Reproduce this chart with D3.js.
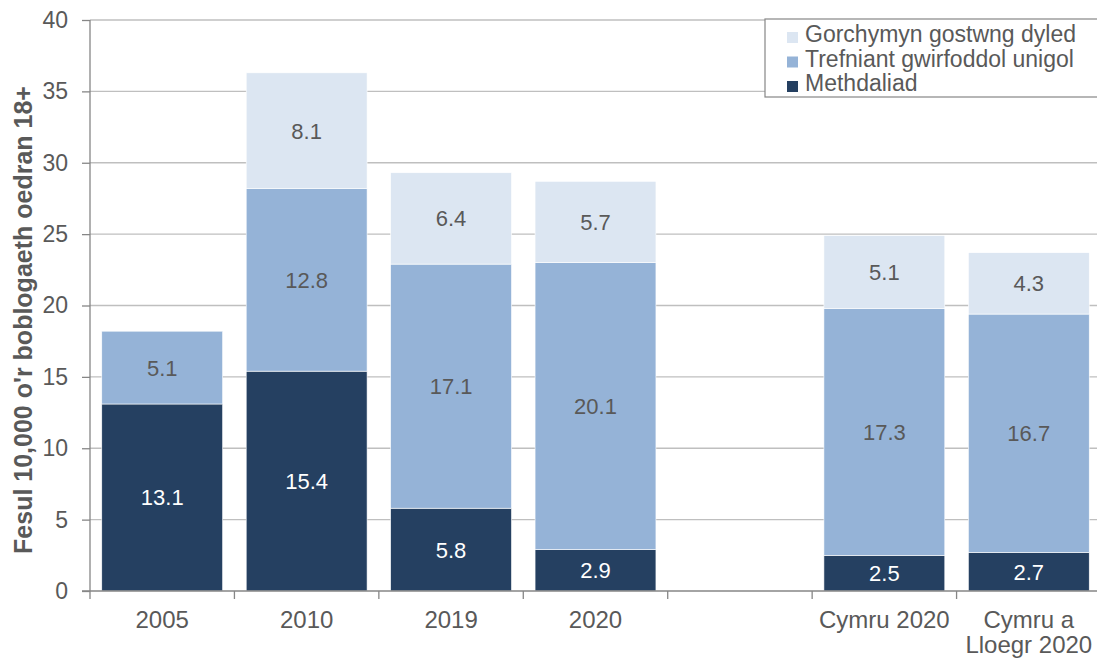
<!DOCTYPE html>
<html>
<head>
<meta charset="utf-8">
<script src="https://cdn.jsdelivr.net/npm/d3@7"></script>
<style>
  body { margin: 0; background: #fff; }
  text { font-family: "Liberation Sans", Arial, sans-serif; }
</style>
</head>
<body>
<script>
// Data
var categories = ["2005", "2010", "2019", "2020", "", "Cymru 2020", "Cymru a\nLloegr 2020"];
var methdaliad = [13.1, 15.4, 5.8, 2.9, null, 2.5, 2.7];
var trefniant = [5.1, 12.8, 17.1, 20.1, null, 17.3, 16.7];
var gorchymyn = [0, 8.1, 6.4, 5.7, null, 5.1, 4.3];
var seriesNames = ["Methdaliad", "Trefniant gwirfoddol unigol", "Gorchymyn gostwng dyled"];
var yTicks = [0, 5, 10, 15, 20, 25, 30, 35, 40];

var colors = ["#254061", "#95b3d7", "#dce6f2"];
var labelColors = ["#ffffff", "#595959", "#595959"];

var svgWidth = 1097, svgHeight = 660;
var margin = { top: 20, right: -4, bottom: 69, left: 90 };
var width = svgWidth - margin.left - margin.right;
var height = svgHeight - margin.top - margin.bottom;

var svg = d3.select("body").append("svg")
  .attr("width", svgWidth)
  .attr("height", svgHeight);

var chartGroup = svg.append("g")
  .attr("transform", `translate(${margin.left}, ${margin.top})`);

var keys = categories.map((c, i) => "k" + i);
var x = d3.scaleBand().domain(keys).range([0, width]).paddingInner(0.163).paddingOuter(0.0815);
var y = d3.scaleLinear().domain([0, 40]).range([height, 0]);

// gridlines
chartGroup.selectAll(".grid").data(yTicks.slice(1)).enter().append("line")
  .attr("x1", 0).attr("x2", width)
  .attr("y1", d => y(d)).attr("y2", d => y(d))
  .attr("stroke", "#bfbfbf").attr("stroke-width", 1.3);

// stack data
var rows = categories.map((c, i) => ({ key: keys[i], m: methdaliad[i] || 0, t: trefniant[i] || 0, g: gorchymyn[i] || 0 }));
var stack = d3.stack().keys(["m", "t", "g"])(rows);

stack.forEach((layer, li) => {
  var g = chartGroup.append("g");
  g.selectAll("rect").data(layer.filter(d => d[1] - d[0] > 0)).enter().append("rect")
    .attr("x", d => x(d.data.key))
    .attr("width", x.bandwidth())
    .attr("y", d => y(d[1]))
    .attr("height", d => y(d[0]) - y(d[1]))
    .attr("fill", colors[li])
    .attr("stroke", "#ffffff").attr("stroke-width", 0.6);
  g.selectAll("text").data(layer.filter(d => d[1] - d[0] > 0)).enter().append("text")
    .attr("x", d => x(d.data.key) + x.bandwidth() / 2)
    .attr("y", d => (y(d[0]) + y(d[1])) / 2 + 8)
    .attr("text-anchor", "middle")
    .attr("font-size", "22px")
    .attr("fill", labelColors[li])
    .text(d => (d[1] - d[0]).toFixed(1));
});

// y axis
var leftAxis = d3.axisLeft(y).tickValues(yTicks).tickSize(8).tickPadding(14);
var yAxis = chartGroup.append("g").call(leftAxis);
yAxis.select(".domain").attr("stroke", "#868686").attr("stroke-width", 1.3).attr("d", `M0,${height}V0`);
yAxis.selectAll(".tick line").attr("stroke", "#868686").attr("stroke-width", 1.3);
yAxis.selectAll(".tick text").attr("font-size", "23px").attr("fill", "#595959")
  .attr("font-family", "Liberation Sans, Arial, sans-serif");

// x axis
var xAxis = chartGroup.append("g").attr("transform", `translate(0, ${height})`);
xAxis.append("line").attr("x1", -8).attr("x2", width).attr("stroke", "#868686").attr("stroke-width", 1.3);
var step = x.step();
d3.range(keys.length + 1).forEach(i => {
  var xp = i * step;
  xAxis.append("line").attr("x1", xp).attr("x2", xp).attr("y1", 0).attr("y2", 8)
    .attr("stroke", "#868686").attr("stroke-width", 1.3);
});
xAxis.selectAll(".xlab").data(categories).enter().append("text")
  .attr("text-anchor", "middle")
  .attr("font-size", "24px")
  .attr("fill", "#595959")
  .attr("transform", (d, i) => `translate(${x(keys[i]) + x.bandwidth() / 2}, 37)`)
  .each(function (d) {
    var lines = d.split("\n");
    d3.select(this).selectAll("tspan").data(lines).enter().append("tspan")
      .attr("x", 0).attr("dy", (l, j) => j === 0 ? 0 : 25).text(l => l);
  });

// y axis title
svg.append("text")
  .attr("transform", `translate(32, 320) rotate(-90)`)
  .attr("text-anchor", "middle")
  .attr("font-size", "25px")
  .attr("font-weight", "bold")
  .attr("fill", "#595959")
  .text("Fesul 10,000 o'r boblogaeth oedran 18+");

// legend
var legend = svg.append("g").attr("transform", "translate(765, 19)");
legend.append("rect").attr("width", 345).attr("height", 78)
  .attr("fill", "#fff").attr("stroke", "#868686").attr("stroke-width", 1.2);
var legendOrder = [2, 1, 0];
legendOrder.forEach((si, i) => {
  var row = legend.append("g").attr("transform", `translate(22, ${23 + i * 24.5})`);
  row.append("rect").attr("x", 0).attr("y", -10).attr("width", 11).attr("height", 11).attr("fill", colors[si]);
  row.append("text").attr("x", 18).attr("y", 0).attr("font-size", "23px").attr("fill", "#595959")
    .text(seriesNames[si]);
});
</script>
</body>
</html>
